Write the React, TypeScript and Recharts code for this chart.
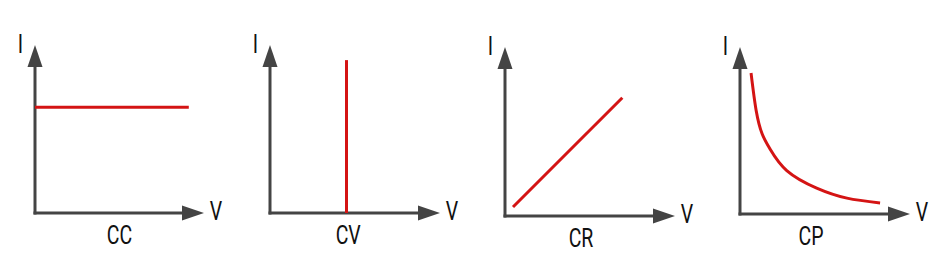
import { LineChart, Line, XAxis, YAxis, ReferenceLine, ReferenceDot } from "recharts";

// operating modes of an electronic load, I over V
const modes = ["CC", "CV", "CR", "CP"];

const ccV = [0, 91];
const ccI = [63, 63];

const cvV = [45, 45];
const cvI = [0, 91];

const crV = [4.7, 69];
const crI = [5.3, 70];

const cpV = [6.5, 9.5, 13, 17.6, 27.5, 45.1, 62.9, 82.4];
const cpI = [84.4, 62, 48, 39, 26, 15.5, 9.5, 6.6];

const series = [
  { v: ccV, i: ccI, curve: "linear" },
  { v: cvV, i: cvI, curve: "linear" },
  { v: crV, i: crI, curve: "linear" },
  { v: cpV, i: cpI, curve: "natural" },
];

// where each small panel sits on the page (origin and arrow tips, px)
const layout = [
  { ox: 35, oy: 213, tx: 204, ty: 45, labelAt: 50 },
  { ox: 270, oy: 213, tx: 440, ty: 45, labelAt: 46 },
  { ox: 505, oy: 216, tx: 675, ty: 47, labelAt: 44.7 },
  { ox: 740, oy: 214, tx: 910, ty: 47, labelAt: 41.8 },
];

const AXIS = "#444444";
const RED = "#d41414";
const FONT = "Roboto, sans-serif";
const W = 236;
const H = 253;
const ML = 35;

// narrow lettering like the original drawing
const Txt = ({ x, y, children }: { x: number; y: number; children: string }) => (
  <text
    transform={`translate(${x},${y}) scale(0.78,1)`}
    textAnchor="middle"
    fontSize={25}
    fontFamily={FONT}
    fill="#111"
  >
    {children}
  </text>
);

const XArrow = (p: any) => (
  <g>
    <polygon points={`${p.cx},${p.cy} ${p.cx - 22},${p.cy - 7.5} ${p.cx - 22},${p.cy + 7.5}`} fill={AXIS} />
    <Txt x={p.cx + 12} y={p.cy + 7}>V</Txt>
  </g>
);

const YArrow = (p: any) => (
  <g>
    <polygon points={`${p.cx},${p.cy} ${p.cx - 7.5},${p.cy + 22} ${p.cx + 7.5},${p.cy + 22}`} fill={AXIS} />
    <Txt x={p.cx - 14.5} y={p.cy + 7.5}>I</Txt>
  </g>
);

const ModeLabel = (name: string) => (p: any) => <Txt x={p.cx} y={p.cy + 31}>{name}</Txt>;

const Panel = ({ idx }: { idx: number }) => {
  const s = series[idx];
  const l = layout[idx];
  const data = s.v.map((v, k) => ({ v, i: s.i[k] }));
  return (
    <div style={{ position: "absolute", left: l.ox - ML, top: 0 }}>
      <LineChart
        width={W}
        height={H}
        data={data}
        margin={{ top: l.ty, left: ML, right: W - ML - (l.tx - l.ox), bottom: H - l.oy }}
      >
        <XAxis type="number" dataKey="v" domain={[0, 100]} hide />
        <YAxis type="number" domain={[0, 100]} hide />
        <ReferenceLine segment={[{ x: 0, y: 0 }, { x: 88, y: 0 }]} stroke={AXIS} strokeWidth={3} strokeLinecap="square" />
        <ReferenceLine segment={[{ x: 0, y: 0 }, { x: 0, y: 88 }]} stroke={AXIS} strokeWidth={3} strokeLinecap="square" />
        <ReferenceDot x={100} y={0} r={0} shape={XArrow} />
        <ReferenceDot x={0} y={100} r={0} shape={YArrow} />
        <ReferenceDot x={l.labelAt} y={0} r={0} shape={ModeLabel(modes[idx])} />
        <Line
          dataKey="i"
          type={s.curve as any}
          stroke={RED}
          strokeWidth={3}
          dot={false}
          isAnimationActive={false}
        />
      </LineChart>
    </div>
  );
};

export default function App() {
  return (
    <div style={{ position: "absolute", left: 0, top: 0, width: 946, height: 253, background: "#fff" }}>
      {modes.map((m, k) => (
        <Panel key={m} idx={k} />
      ))}
    </div>
  );
}
